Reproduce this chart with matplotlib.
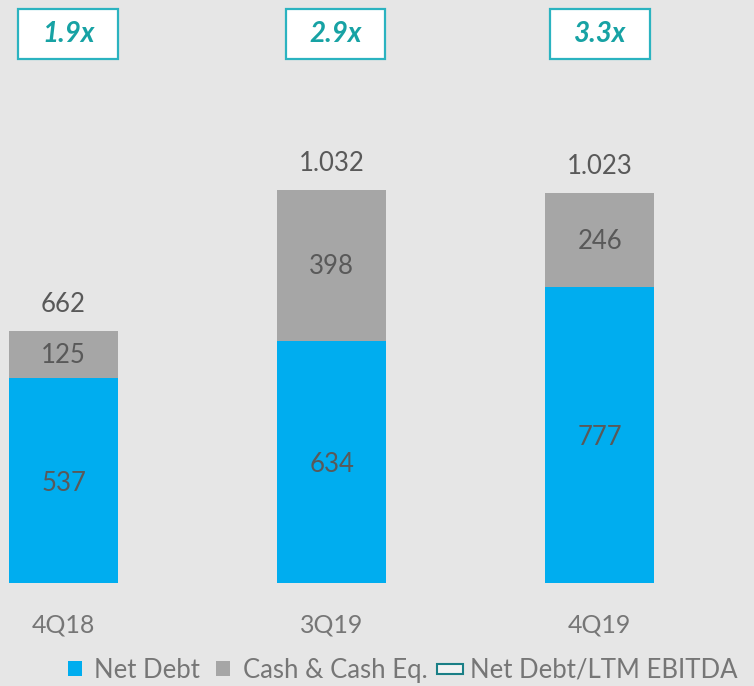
import matplotlib.pyplot as plt
from matplotlib.patches import Patch, Rectangle
from matplotlib.legend_handler import HandlerPatch

plt.rcParams['font.family'] = ['Lato', 'DejaVu Sans']

# data
quarters = ['4Q18', '3Q19', '4Q19']
net_debt = [537, 634, 777]
cash = [125, 398, 246]
leverage = ['1.9x', '2.9x', '3.3x']
totals = [n + c for n, c in zip(net_debt, cash)]

blue = '#00ADEF'
grey = '#A6A6A6'
teal = '#17A2A4'
border = '#2BB3C0'
label_col = '#595959'


class SizedHandler(HandlerPatch):
    # legend marker with its own width/height (in font-size units)
    def __init__(self, w, h):
        super().__init__()
        self.w, self.h = w, h

    def create_artists(self, legend, orig_handle, xdescent, ydescent,
                       width, height, fontsize, trans):
        w, h = self.w * fontsize, self.h * fontsize
        p = Rectangle((-xdescent + (width - w) / 2, -ydescent + (height - h) / 2),
                      w, h)
        self.update_prop(p, orig_handle, legend)
        p.set_transform(trans)
        return [p]


fig = plt.figure(figsize=(7.54, 6.86), dpi=100)
fig.patch.set_facecolor('#E6E6E6')

ax = fig.add_axes([0, 103 / 686, 1, 583 / 686])
ax.set_facecolor('none')

x = list(range(len(quarters)))
bw = 0.407
ax.bar(x, net_debt, width=bw, color=blue, zorder=2)
ax.bar(x, cash, width=bw, bottom=net_debt, color=grey, zorder=2)

for i in x:
    ax.annotate(str(net_debt[i]), (i, net_debt[i] / 2), xytext=(0, -2),
                textcoords='offset points', ha='center', va='center',
                fontsize=18.5, color=label_col)
    ax.annotate(str(cash[i]), (i, net_debt[i] + cash[i] / 2), xytext=(0, -1),
                textcoords='offset points', ha='center', va='center',
                fontsize=18.5, color=label_col)
    ax.annotate(f"{totals[i]:,}".replace(',', '.'), (i, totals[i]),
                xytext=(0, 19), textcoords='offset points',
                ha='center', va='center', fontsize=18.5, color=label_col)

# leverage boxes
box_w, box_h, box_y = 0.37, 132, 1375
box_dx = [0.017, 0.015, 0.0]
for i, lev in enumerate(leverage):
    cx = i + box_dx[i]
    ax.add_patch(Rectangle((cx - box_w / 2, box_y), box_w, box_h,
                           facecolor='white', edgecolor=border, lw=1.6, zorder=3))
    ax.text(cx, box_y + box_h / 2, lev, ha='center', va='center', fontsize=20,
            fontweight='bold', fontstyle='italic', color=teal, zorder=4)

ax.set_xlim(-63.5 / 268, 2 + 154 / 268)
ax.set_ylim(0, 1530)
ax.set_xticks(x)
ax.set_xticklabels(quarters, fontsize=18, color='#767676')
ax.tick_params(axis='x', length=0, pad=22)
ax.set_yticks([])
for s in ax.spines.values():
    s.set_visible(False)

h_nd = Patch(facecolor=blue, edgecolor='none', label='Net Debt')
h_cash = Patch(facecolor=grey, edgecolor='none', label='Cash & Cash Eq.')
h_lev = Patch(facecolor='#F2F2F2', edgecolor='#1A7F86', lw=1.5,
              label='Net Debt/LTM EBITDA')
fig.legend(handles=[h_nd, h_cash, h_lev], loc='lower center',
           bbox_to_anchor=(0.53, -0.029), ncol=3, frameon=False, fontsize=18.5,
           labelcolor='#767676', handlelength=1.0, handleheight=0.7,
           handletextpad=0.25, columnspacing=0.4,
           handler_map={h_nd: SizedHandler(0.55, 0.6),
                        h_cash: SizedHandler(0.55, 0.6),
                        h_lev: SizedHandler(1.0, 0.4)})

fig.savefig('out.png', dpi=100, facecolor=fig.get_facecolor())
